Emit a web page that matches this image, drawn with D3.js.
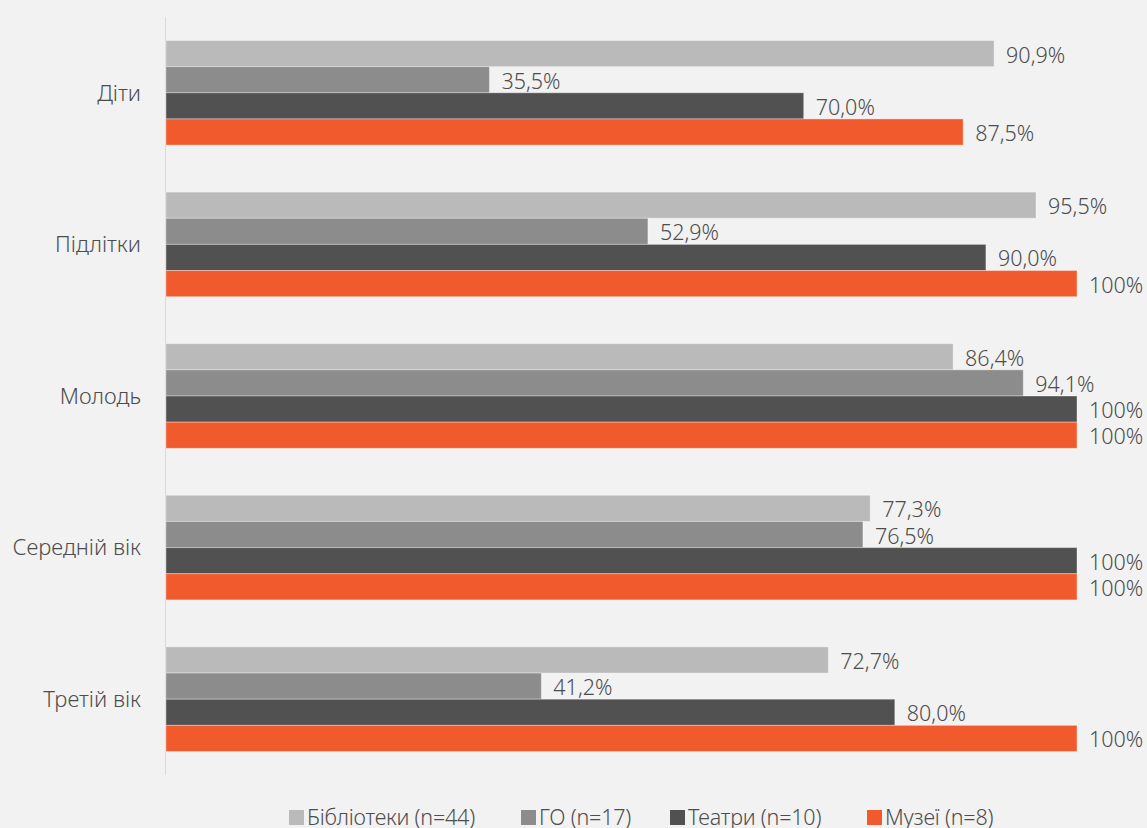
<!DOCTYPE html>
<html>
<head>
<meta charset="utf-8">
<script src="https://cdn.jsdelivr.net/npm/d3@7"></script>
<style>
  html, body { margin: 0; padding: 0; background: #f2f2f2; }
  svg { display: block; }
  text { font-family: "Noto Sans", "Open Sans", sans-serif; font-weight: 300; fill: #4d4d4d; }
</style>
</head>
<body>
<svg id="chart" width="1147" height="828"></svg>
<script>
// Age groups (rows) and the share of each institution type working with them, %
const categories = ["Діти", "Підлітки", "Молодь", "Середній вік", "Третій вік"];
const seriesNames = ["Бібліотеки (n=44)", "ГО (n=17)", "Театри (n=10)", "Музеї (n=8)"];
const libraries = [90.9, 95.5, 86.4, 77.3, 72.7];
const ngos      = [35.5, 52.9, 94.1, 76.5, 41.2];
const theatres  = [70.0, 90.0, 100, 100, 80.0];
const museums   = [87.5, 100, 100, 100, 100];
const seriesColors = ["#bababa", "#8c8c8c", "#515151", "#f15a2d"];

const seriesValues = [libraries, ngos, theatres, museums];

const svg = d3.select("#chart");
const plot = { left: 166, right: 1077, top: 17, bottom: 775 };

const x = d3.scaleLinear().domain([0, 100]).range([plot.left, plot.right]);
const y = d3.scaleBand().domain(categories).range([plot.top, plot.bottom])
  .paddingInner(0.31).paddingOuter(0.155);
const ySub = d3.scaleBand().domain(d3.range(seriesNames.length)).range([0, y.bandwidth()]);

const fmt = v => v === 100 ? "100%" : v.toFixed(1).replace(".", ",") + "%";

// vertical category axis line
svg.append("line")
  .attr("x1", plot.left - 0.5).attr("x2", plot.left - 0.5)
  .attr("y1", plot.top).attr("y2", plot.bottom)
  .attr("stroke", "#d9d9d9").attr("stroke-width", 1);

// category labels
svg.append("g").selectAll("text")
  .data(categories)
  .join("text")
  .attr("x", 141)
  .attr("y", d => y(d) + y.bandwidth() / 2)
  .attr("dy", "0.35em")
  .attr("text-anchor", "end")
  .attr("font-size", 22)
  .text(d => d);

// bars and value labels
const rows = categories.map((c, i) => ({ cat: c, vals: seriesValues.map((s, k) => ({ k, v: s[i] })) }));
const groups = svg.append("g").selectAll("g")
  .data(rows)
  .join("g")
  .attr("transform", d => `translate(0,${y(d.cat)})`);

groups.selectAll("rect")
  .data(d => d.vals)
  .join("rect")
  .attr("x", x(0))
  .attr("y", d => ySub(d.k))
  .attr("width", d => x(d.v) - x(0))
  .attr("height", ySub.bandwidth())
  .attr("fill", d => seriesColors[d.k])
  .attr("stroke", "rgba(255,255,255,0.35)")
  .attr("stroke-width", 1);

groups.selectAll("text")
  .data(d => d.vals)
  .join("text")
  .attr("x", d => x(d.v) + 12)
  .attr("y", d => ySub(d.k) + ySub.bandwidth() / 2 + 9)
  .attr("font-size", 21.5)
  .text(d => fmt(d.v));

// legend
const legendX = [289, 521, 670, 867];
const legend = svg.append("g").selectAll("g")
  .data(seriesNames)
  .join("g")
  .attr("transform", (d, i) => `translate(${legendX[i]},0)`);
legend.append("rect")
  .attr("x", 0).attr("y", 810).attr("width", 15).attr("height", 15)
  .attr("fill", (d, i) => seriesColors[i]);
legend.append("text")
  .attr("x", 18).attr("y", 825)
  .attr("font-size", 21.5)
  .attr("letter-spacing", -0.2)
  .text(d => d);
</script>
</body>
</html>
